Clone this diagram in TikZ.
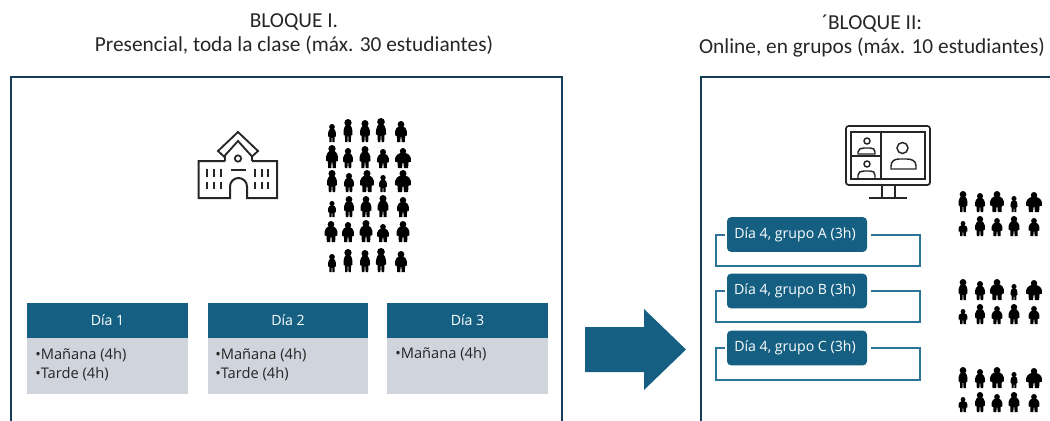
\documentclass[tikz,border=0pt]{standalone}
\usepackage{fontspec}
\setmainfont{Carlito}
\newfontfamily\boxFont{Open Sans}
\definecolor{frameBlue}{HTML}{123F57}
\definecolor{headBlue}{HTML}{156082}
\definecolor{lineBlue}{HTML}{2A7597}
\definecolor{bodyGrey}{HTML}{D0D4DC}
\definecolor{titleInk}{HTML}{262626}
\tikzstyle{titleStyle}=[font = \fontsize{16}{18}\selectfont, text = titleInk, align = center]
\tikzstyle{dayHead}=[shape = rectangle, minimum width = 120.5pt, minimum height = 26pt, inner sep = 0pt, fill = headBlue, text = white, font = \boxFont\fontsize{10.6}{12}\selectfont]
\tikzstyle{dayBody}=[shape = rectangle, minimum width = 120.5pt, minimum height = 42pt, inner sep = 0pt, fill = bodyGrey]
\tikzstyle{dayText}=[anchor = west, align = left, inner sep = 0pt, text = titleInk, font = \boxFont\fontsize{11}{14.2}\selectfont]
\tikzstyle{groupBox}=[shape = rectangle, rounded corners = 3pt, minimum width = 105pt, minimum height = 26pt, inner sep = 0pt, fill = headBlue, text = white, font = \boxFont\fontsize{10.6}{12}\selectfont]
\tikzstyle{groupLine}=[draw = lineBlue, line width = 1.5pt]
\tikzstyle{frameLine}=[draw = frameBlue, line width = 1.6pt]
\tikzstyle{iconLine}=[draw = black!85, line width = 1.1pt]
\newcommand{\personFig}[4]{
\begin{scope}[shift = {(#1,#2)}, xscale = #4, yscale = #3]
\fill[black] (0,-0.84) ellipse ({0.16*#3/#4} and 0.16);
\fill[black] (-0.5,-0.32) .. controls (-0.54,-0.62) and (-0.32,-0.76) .. (0,-0.76) .. controls (0.32,-0.76) and (0.54,-0.62) .. (0.5,-0.32) -- (0.34,-0.28) -- (0.32,0) -- (0.06,0) -- (0.03,-0.24) -- (-0.03,-0.24) -- (-0.06,0) -- (-0.32,0) -- (-0.34,-0.28) -- cycle;
\end{scope}
}
\begin{document}
\begin{tikzpicture}[x = 0.75pt, y = -0.75pt]
\useasboundingbox (0,0) rectangle (1050,421);
\node[titleStyle] (t1) at (294,34) {BLOQUE I.\\Presencial, toda la clase (máx. 30 estudiantes)};
\node[titleStyle] (t2) at (872,36) {´BLOQUE II:\\Online, en grupos (máx. 10 estudiantes)};
\draw[frameLine] (11,421) -- (11,77) -- (562,77) -- (562,421);
\draw[frameLine] (701,421) -- (701,77) -- (1050,77);
\fill[headBlue] (585,327) -- (644,327) -- (644,309) -- (686,349.5) -- (644,390) -- (644,372) -- (585,372) -- cycle;
\node[dayBody] (b1) at (107.5,366) {};
\node[dayBody] (b2) at (288,366) {};
\node[dayBody] (b3) at (467.5,366) {};
\node[dayHead] (h1) at (107.5,320.5) {Día 1};
\node[dayHead] (h2) at (288,320.5) {Día 2};
\node[dayHead] (h3) at (467.5,320.5) {Día 3};
\node[dayText] (l1) at (35,364.5) {•Mañana (4h)\\•Tarde (4h)};
\node[dayText] (l2) at (215,364.5) {•Mañana (4h)\\•Tarde (4h)};
\node[dayText] (l3) at (395,354) {•Mañana (4h)};
\node[groupBox] (g0) at (797,234.5) {Día 4, grupo A (3h)\hspace*{3pt}};
\node[groupBox] (g1) at (797,291) {Día 4, grupo B (3h)\hspace*{3pt}};
\node[groupBox] (g2) at (797,348) {Día 4, grupo C (3h)\hspace*{3pt}};
\draw[groupLine, shorten <= 1.5pt, shorten >= 3pt] (g0.west) -- ++(-11,0) -- ++(0,31.5) -- ++(204,0) -- ++(0,-31.5) -- (g0.east);
\draw[groupLine, shorten <= 1.5pt, shorten >= 3pt] (g1.west) -- ++(-11,0) -- ++(0,31) -- ++(204,0) -- ++(0,-31) -- (g1.east);
\draw[groupLine, shorten <= 1.5pt, shorten >= 3pt] (g2.west) -- ++(-11,0) -- ++(0,31.5) -- ++(204,0) -- ++(0,-31.5) -- (g2.east);
\draw[iconLine, line width = 1.5pt] (225,161) -- (198.5,161) -- (198.5,198) -- (230,198) -- (230,186.5) arc[start angle = 180, end angle = 360, x radius = 8.5, y radius = 8.5] -- (247,198) -- (277,198) -- (277,161) -- (252,161);
\draw[iconLine, line width = 1.2pt] (225,161) -- (225,156);
\draw[iconLine, line width = 1.2pt] (252,161) -- (252,156);
\draw[iconLine, line width = 1.4pt] (218,151) -- (238,132) -- (258,151) -- (252,156.5) -- (238,141) -- (224,156.5) -- cycle;
\draw[iconLine, line width = 1.3pt] (238,158.5) circle (3.2);
\draw[iconLine] (231,170) -- (246,170);
\foreach \wx in {207,214,221,255,262,268}
{
\draw[iconLine] (\wx,169) -- (\wx,177);
\draw[iconLine] (\wx,182) -- (\wx,189);
}
\draw[iconLine, rounded corners = 2pt, line width = 1.3pt] (846,126) rectangle (930,185);
\draw[iconLine, line width = 1.3pt] (851,132) rectangle (925,179);
\draw[iconLine] (881,132) -- (881,179);
\draw[iconLine] (851,156) -- (881,156);
\draw[iconLine] (902.5,148) circle (5.5);
\draw[iconLine] (891,169) -- (891,166) .. controls (891,161) and (895,159) .. (899,159) -- (907,159) .. controls (912,159) and (916,161) .. (916,166) -- (916,169) -- cycle;
\draw[iconLine] (867,141) circle (3);
\draw[iconLine] (858,154) -- (858,152) .. controls (858,149) and (861,148) .. (864,148) -- (870,148) .. controls (873,148) and (875,149) .. (875,152) -- (875,154) -- cycle;
\draw[iconLine] (867,164) circle (3);
\draw[iconLine] (858,179) -- (858,175) .. controls (858,172) and (861,171) .. (864,171) -- (870,171) .. controls (873,171) and (875,172) .. (875,175) -- (875,179);
\draw[iconLine] (882,185) -- (882,198);
\draw[iconLine] (895,185) -- (895,198);
\draw[iconLine] (869,198) -- (907,198);
\foreach \px/\py/\ph/\pw in {
332/142/18/8, 348/142/23/9, 365/142/22/10, 381/142/24/10, 401/142/21/12,
332/168/23/12, 348/168/20/10, 365/168/22/11, 383/168/19/12, 403/168/20/16,
332/192/22/10, 349/192/19/10, 367/192/22/14, 383/192/17/8, 403/192/22/16,
332/217/16/8, 349/217/21/10, 366/217/21/11, 383/217/22/11, 403/217/20/12,
331/242/21/13, 348/242/20/12, 366/242/22/13, 383/242/18/12, 403/242/21/13,
332/272/18/8, 348/272/23/9, 365/272/22/10, 381/272/24/10, 401/272/21/12}
{
\personFig{\px}{\py}{\ph}{\pw}
}
\foreach \gy in {0,88,176}
{
\foreach \px/\py/\ph/\pw in {
963/212/21/9, 980/212/19/10, 997/212/21/14, 1014/212/16/7, 1034/212/20/16,
963/236/15/9, 980/236/20/10, 997/236/18/11, 1014/236/20/11, 1034/236/18/11}
{
\personFig{\px}{\py+\gy}{\ph}{\pw}
}
}
\end{tikzpicture}
\end{document}
